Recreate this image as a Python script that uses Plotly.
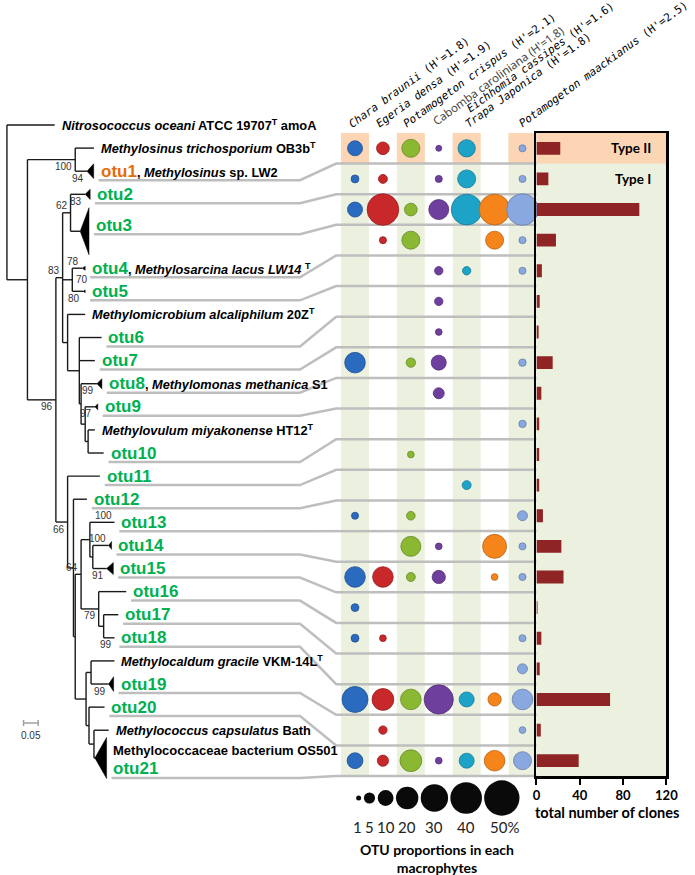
import math
import plotly.graph_objects as go

W, H = 695, 875

# ------------------------------------------------------------------ data
macrophytes = ["Chara braunii", "Egeria densa", "Potamogeton crispus",
               "Cabomba caroliniana", "Trapa Japonica", "Eichhomia cassipes",
               "Potamogeton maackianus"]
macrophyte_H = [1.8, 1.9, 2.1, 1.8, 1.8, 1.6, 2.5]
otus = ["otu%d" % i for i in range(1, 22)]
otu_type_labels = ["Type II", "Type I"]

# OTU proportions (%) in each macrophyte, otu1 .. otu21
chara_braunii = [9, 2.5, 9, 0, 0, 0, 0, 17, 0, 0, 0, 0, 2, 0, 17, 2.5, 2.5, 0, 27, 0, 10]
egeria_densa = [6.5, 3.2, 40, 2, 0, 0, 0, 0, 0, 0, 0, 0, 0, 0, 17, 0, 1.8, 0, 19, 2.8, 5]
potamogeton_crispus = [13, 0, 6.5, 13, 0, 0, 0, 3.5, 0, 0, 1.8, 0, 3, 16, 3.2, 0, 0, 0, 17, 0, 19]
cabomba_caroliniana = [1.4, 2, 16, 0, 2.8, 2.8, 1.8, 9, 4.8, 0, 0, 0, 0, 1.8, 7, 0, 0, 0, 34, 0, 1.8]
trapa_japonica = [12, 13, 38, 0, 2.8, 0, 0, 0, 0, 0, 0, 3.2, 0, 0, 0, 0, 0, 0, 9, 0, 9]
eichhomia_cassipes = [0, 0, 38, 13, 0, 0, 0, 0, 0, 0, 0, 0, 0, 23, 1.8, 0, 0, 0, 7, 0, 17]
potamogeton_maackianus = [2, 2, 40, 2, 2, 0, 0, 2.2, 0, 2.2, 0, 0, 4, 2, 2, 0, 2, 4, 17, 1.8, 13]
proportions = [chara_braunii, egeria_densa, potamogeton_crispus, cabomba_caroliniana,
               trapa_japonica, eichhomia_cassipes, potamogeton_maackianus]

total_clones = [22, 11, 95, 18, 5, 3, 2, 15, 4.5, 2.5, 2.5, 2.5, 6, 23, 25, 1, 4.5, 3, 68, 4, 39]
legend_pct = [1, 5, 10, 20, 30, 40, 50]

# phylogenetic tree (leaves top -> bottom)
tree_leaves = ["Nitro", "Mtri", "otu1", "otu2", "otu3", "otu4", "otu5", "Malc", "otu6",
               "otu7", "otu8", "otu9", "Mmiy", "otu10", "otu11", "otu12", "otu13", "otu14",
               "otu15", "otu16", "otu17", "otu18", "Mgrac", "otu19", "otu20", "Mcap", "otu21"]
leaf_slot = [1, 1, 1, 1, 2.2, 1, 1, 1, 1, 1, 1, 1, 1, 1, 1, 1, 1, 1, 1, 1, 1, 1, 1, 1, 1, 1, 1.4]
# collapsed clades (triangles): half height in leaf slots, width in substitutions/site
clade_half = [0, 0, 0.32, 0.22, 1.02, 0.09, 0.06, 0, 0, 0, 0.22, 0.13, 0, 0, 0, 0, 0,
              0.17, 0.26, 0, 0, 0, 0, 0.32, 0, 0, 0.89]
clade_width = [0, 0, 0.023, 0.017, 0.030, 0.010, 0.007, 0, 0, 0, 0.017, 0.010, 0, 0, 0, 0, 0,
               0.010, 0.023, 0, 0, 0, 0, 0.017, 0, 0, 0.040]

node_parent = {
    "Nitro": "root", "Ingroup": "root",
    "TypeII": "Ingroup", "TypeI": "Ingroup",
    "Mtri": "TypeII", "otu1": "TypeII",
    "N83": "TypeI", "N66": "TypeI",
    "N62": "N83", "N70": "N83", "Nz": "N83",
    "otu2": "N62", "otu3": "N62",
    "otu4": "N70", "otu5": "N70",
    "Malc": "Nz", "Nc": "Nz",
    "otu6": "Nc", "otu7": "Nc", "Nd": "Nc",
    "otu8": "Nd", "NA": "Nd",
    "otu9": "NA", "NB": "NA",
    "Mmiy": "NB", "otu10": "NB",
    "otu11": "N66", "Np": "N66",
    "otu12": "Np", "Nq": "Np",
    "N64": "Nq", "Ng": "Nq",
    "N88": "N64", "N79": "N64",
    "otu13": "N88", "N91": "N88",
    "otu14": "N91", "otu15": "N91",
    "otu16": "N79", "N99": "N79",
    "otu17": "N99", "otu18": "N99",
    "Ngrac": "Ng", "Nn": "Ng",
    "Mgrac": "Ngrac", "otu19": "Ngrac",
    "otu20": "Nn", "Ncap": "Nn",
    "Mcap": "Ncap", "otu21": "Ncap",
}
# cumulative distance from root (substitutions/site)
node_depth = {
    "root": 0.0, "Nitro": 0.163, "Ingroup": 0.070, "TypeII": 0.233, "Mtri": 0.297,
    "otu1": 0.273, "TypeI": 0.167, "N83": 0.190, "N62": 0.217, "otu2": 0.267,
    "otu3": 0.250, "N70": 0.223, "otu4": 0.257, "otu5": 0.260, "Nz": 0.207,
    "Malc": 0.267, "Nc": 0.247, "otu6": 0.323, "otu7": 0.300, "Nd": 0.253,
    "otu8": 0.307, "NA": 0.267, "otu9": 0.300, "NB": 0.277, "Mmiy": 0.300,
    "otu10": 0.330, "N66": 0.207, "otu11": 0.317, "Np": 0.227, "otu12": 0.273,
    "Nq": 0.233, "N64": 0.253, "N88": 0.283, "otu13": 0.367, "N91": 0.293,
    "otu14": 0.347, "otu15": 0.340, "N79": 0.313, "otu16": 0.407, "N99": 0.330,
    "otu17": 0.380, "otu18": 0.367, "Ng": 0.270, "Ngrac": 0.287, "Mgrac": 0.367,
    "otu19": 0.347, "Nn": 0.280, "otu20": 0.333, "Ncap": 0.297, "Mcap": 0.347,
    "otu21": 0.300,
}
bootstrap = [("TypeII", 100, "below"), ("otu1", 94, "below"), ("N83", 83, "above"),
             ("N62", 62, "above"), ("otu2", 83, "below"), ("otu4", 78, "above"),
             ("N70", 70, "right"), ("otu5", 80, "below"), ("TypeI", 96, "below"),
             ("otu8", 99, "below"), ("otu9", 97, "below"), ("N66", 66, "below"),
             ("otu13", 100, "above"), ("N64", 64, "above"), ("otu14", 100, "above"),
             ("otu15", 91, "below"), ("N79", 79, "below"), ("otu18", 99, "below"),
             ("otu19", 99, "below")]

reference_names = {
    "Nitro": "<i>Nitrosococcus oceani</i> ATCC 19707<sup>T</sup> amoA",
    "Mtri": "<i>Methylosinus trichosporium</i> OB3b<sup>T</sup>",
    "Malc": "<i>Methylomicrobium alcaliphilum</i> 20Z<sup>T</sup>",
    "Mmiy": "<i>Methylovulum miyakonense</i> HT12<sup>T</sup>",
    "Mgrac": "<i>Methylocaldum gracile</i> VKM-14L<sup>T</sup>",
    "Mcap": "<i>Methylococcus capsulatus</i> Bath",
}
otu_suffix = {
    "otu1": ", <i>Methylosinus</i> sp. LW2",
    "otu4": ", <i>Methylosarcina lacus LW14</i> <sup>T</sup>",
    "otu8": ", <i>Methylomonas methanica</i> S1",
}
otu21_prefix = "Methylococcaceae bacterium OS501"

# ------------------------------------------------------------------ geometry / style
TREE_PX_PER_UNIT, TREE_X0 = 300.0, 3.0
SLOT_PX, SLOT0 = 23.1, 125.0
MAT_L, MAT_R, BAR_R = 345.0, 545.0, 678.0
ROW_T, ROW_B = 133.0, 776.0
n_rows, n_cols = len(otus), len(macrophytes)
row_h = (ROW_B - ROW_T) / n_rows
col_w = (MAT_R - MAT_L) / n_cols

def px_dx(p):
    return (p - TREE_X0) / TREE_PX_PER_UNIT

def px_slot(p):
    return (p - SLOT0) / SLOT_PX

def px(xp):
    return xp / W

def py(yp):
    return 1 - yp / H

col_colors = ["#2A6BC0", "#C8282A", "#8AB833", "#6F3F9E", "#1DA3C8", "#F5841A", "#8AA8E0"]
GREEN, ORANGE = "#00B050", "#E46C0A"
STRIPE, PEACH = "#EBF1DE", "#FCD5B4"
BAR_COL = "#8E2424"
TREE_FONT = "Liberation Sans"
CAL = "Lato"
REF_SIZE = 12.8

def mix(hexc, f, target=255):
    r, g, b = int(hexc[1:3], 16), int(hexc[3:5], 16), int(hexc[5:7], 16)
    r, g, b = [int(c + (target - c) * f) for c in (r, g, b)]
    return "#%02X%02X%02X" % (r, g, b)

def bubble_size(p):
    return 5.0 * math.sqrt(p)

fig = go.Figure()

# ------------------------------------------------------------------ tree
leaf_y = {}
acc = 0.0
for i, name in enumerate(tree_leaves):
    if i:
        acc += (leaf_slot[i - 1] + leaf_slot[i]) / 2
    leaf_y[name] = acc

children = {}
for n, p in node_parent.items():
    children.setdefault(p, []).append(n)
node_y = dict(leaf_y)

def comp(n):
    if n in node_y:
        return node_y[n]
    ys = [comp(c) for c in children[n]]
    node_y[n] = (min(ys) + max(ys)) / 2
    return node_y[n]

comp("root")

tx, ty = [], []
for n, p in node_parent.items():
    tx += [node_depth[p], node_depth[n], None]
    ty += [node_y[n], node_y[n], None]
for p, ch in children.items():
    ys = [node_y[c] for c in ch]
    tx += [node_depth[p], node_depth[p], None]
    ty += [min(ys), max(ys), None]
fig.add_trace(go.Scatter(x=tx, y=ty, mode="lines", xaxis="x", yaxis="y",
                         line=dict(color="#1a1a1a", width=1.4), hoverinfo="skip"))

trx, tr_y = [], []
for i, name in enumerate(tree_leaves):
    if clade_half[i] > 0:
        d, y0 = node_depth[name], leaf_y[name]
        trx += [d, d + clade_width[i], d + clade_width[i], d, None]
        tr_y += [y0, y0 - clade_half[i], y0 + clade_half[i], y0, None]
fig.add_trace(go.Scatter(x=trx, y=tr_y, mode="lines", fill="toself", fillcolor="black",
                         line=dict(color="black", width=0.5), xaxis="x", yaxis="y",
                         hoverinfo="skip"))

annotations = []
GAP = 5 / TREE_PX_PER_UNIT
conn_x, conn_y = [], []
for i, name in enumerate(tree_leaves):
    lx = node_depth[name] + clade_width[i] + GAP
    y0 = leaf_y[name]
    if name in reference_names:
        annotations.append(dict(x=lx, y=y0, xref="x", yref="y", xanchor="left",
                                yanchor="middle", showarrow=False,
                                text="<b>%s</b>" % reference_names[name],
                                font=dict(family=TREE_FONT, size=REF_SIZE, color="black")))
        continue
    col = ORANGE if name == "otu1" else GREEN
    otu_span = '<span style="font-size:17px;color:%s">%s</span>' % (col, name)
    if name == "otu21":
        annotations.append(dict(x=lx, y=y0 - 7 / SLOT_PX, xref="x", yref="y",
                                xanchor="left", yanchor="middle", showarrow=False,
                                text="<b>%s</b>" % otu21_prefix,
                                font=dict(family=TREE_FONT, size=13, color="black")))
        ty_lab = y0 + 11 / SLOT_PX
        annotations.append(dict(x=lx, y=ty_lab, xref="x", yref="y", xanchor="left",
                                yanchor="middle", showarrow=False, text="<b>%s</b>" % otu_span,
                                font=dict(family=TREE_FONT, size=REF_SIZE, color="black")))
    else:
        ty_lab = y0 - (6 / SLOT_PX if name == "otu3" else 0)
        annotations.append(dict(x=lx, y=ty_lab, xref="x", yref="y", xanchor="left",
                                yanchor="middle", showarrow=False,
                                text="<b>%s%s</b>" % (otu_span, otu_suffix.get(name, "")),
                                font=dict(family=TREE_FONT, size=REF_SIZE, color="black")))
    under_y = ty_lab + 9 / SLOT_PX
    r = otus.index(name)
    sep_px = ROW_T + (r + 1) * row_h
    conn_x += [lx, px_dx(303), px_dx(340), px_dx(MAT_R), None]
    conn_y += [under_y, under_y, px_slot(sep_px), px_slot(sep_px), None]

fig.add_trace(go.Scatter(x=conn_x, y=conn_y, mode="lines", xaxis="x", yaxis="y",
                         line=dict(color="#BEBEBE", width=2.5), hoverinfo="skip"))

for node, val, pos in bootstrap:
    d, y0 = node_depth[node], node_y[node]
    fnt = dict(family=TREE_FONT, size=10, color="#333")
    if pos in ("above", "below"):
        dy = -7 if pos == "above" else 7
        annotations.append(dict(x=d - 1 / TREE_PX_PER_UNIT, y=y0 + dy / SLOT_PX, xref="x",
                                yref="y", xanchor="right", yanchor="middle", showarrow=False,
                                text=str(val), font=fnt))
    else:
        annotations.append(dict(x=d + 2 / TREE_PX_PER_UNIT, y=y0, xref="x", yref="y",
                                xanchor="left", yanchor="middle", showarrow=False,
                                text=str(val), font=fnt))

# scale bar
sb_x0, sb_y = px_dx(20), px_slot(723)
tick = 3 / SLOT_PX
fig.add_trace(go.Scatter(x=[sb_x0, sb_x0 + 0.05, None, sb_x0, sb_x0, None, sb_x0 + 0.05, sb_x0 + 0.05],
                         y=[sb_y, sb_y, None, sb_y - tick, sb_y + tick, None, sb_y - tick, sb_y + tick],
                         mode="lines", xaxis="x", yaxis="y",
                         line=dict(color="#A0A0A0", width=1.5), hoverinfo="skip"))
annotations.append(dict(x=sb_x0 + 0.025, y=sb_y + 12 / SLOT_PX, xref="x", yref="y",
                        xanchor="center", yanchor="middle", showarrow=False, text="0.05",
                        font=dict(family=TREE_FONT, size=10, color="#333")))

# ------------------------------------------------------------------ backgrounds
shapes = []
def rect(x0, x1, y0, y1, color):
    shapes.append(dict(type="rect", xref="paper", yref="paper", layer="below",
                       x0=px(x0), x1=px(x1), y0=py(y1), y1=py(y0),
                       fillcolor=color, line=dict(width=0)))

rect(MAT_R, BAR_R, ROW_T, ROW_B, STRIPE)
rect(MAT_R, BAR_R, ROW_T, ROW_T + row_h, PEACH)
for c in range(0, n_cols, 2):
    x0 = MAT_L + c * col_w
    rect(x0, x0 + col_w, ROW_T, ROW_B, STRIPE)
    rect(x0, x0 + col_w, ROW_T, ROW_T + row_h, PEACH)

# ------------------------------------------------------------------ bubbles
for c, name in enumerate(macrophytes):
    xs, ys, ss = [], [], []
    for r, v in enumerate(proportions[c]):
        if v > 0:
            xs.append(name)
            ys.append(otus[r])
            ss.append(bubble_size(v))
    fig.add_trace(go.Scatter(
        x=xs, y=ys, mode="markers", xaxis="x2", yaxis="y2", cliponaxis=False,
        marker=dict(size=ss, color=col_colors[c], opacity=1,
                    line=dict(width=0.8, color=mix(col_colors[c], 0.25, 0))),
        hoverinfo="skip"))

# ------------------------------------------------------------------ bars
fig.add_trace(go.Bar(x=total_clones, y=otus, orientation="h", xaxis="x3", yaxis="y3",
                     width=0.42, marker=dict(color=BAR_COL, line=dict(width=0)),
                     hoverinfo="skip"))
for k in range(2):
    annotations.append(dict(x=108, y=otus[k], xref="x3", yref="y3", xanchor="right",
                            yanchor="middle", showarrow=False,
                            text="<b>%s</b>" % otu_type_labels[k],
                            font=dict(family=CAL, size=13.5, color="black")))
annotations.append(dict(x=px((MAT_R + BAR_R) / 2 + 6), y=py(812), xref="paper", yref="paper",
                        xanchor="center", yanchor="middle", showarrow=False,
                        text="<b>total number of clones</b>",
                        font=dict(family=CAL, size=14.5, color="black")))

# ------------------------------------------------------------------ column headers
hdr_dx = [-3, -4, -4, -3, 2, -25, 0]
hdr_y = [133, 133, 133, 131, 133, 118, 133]
ANG = 36
for c, name in enumerate(macrophytes):
    cx = MAT_L + (c + 0.5) * col_w + hdr_dx[c]
    if name == "Cabomba caroliniana":
        txt = "%s (H'=%.1f)" % (name, macrophyte_H[c])
        fnt = dict(family="Noto Sans", size=11.5, color="#444")
    else:
        txt = "<i>%s</i> (H'=%.1f)" % (name, macrophyte_H[c])
        fnt = dict(family="DejaVu Sans Mono", size=11, color="black")
    annotations.append(dict(x=px(cx - 9), y=py(hdr_y[c]),
                            xref="paper", yref="paper", xanchor="left", yanchor="bottom",
                            textangle=-ANG, showarrow=False, text=txt, font=fnt))

# ------------------------------------------------------------------ size legend
lxs, prev_r, xcur = [], 0, 363.0
for i, p in enumerate(legend_pct):
    r = bubble_size(p) / 2
    if i:
        xcur += prev_r + r + 3
    lxs.append(xcur)
    prev_r = r
fig.add_trace(go.Scatter(x=lxs, y=[798] * len(lxs), mode="markers", xaxis="x4", yaxis="y4",
                         cliponaxis=False,
                         marker=dict(size=[bubble_size(p) for p in legend_pct], color="#0a0a0a",
                                     opacity=1, line=dict(width=0)),
                         hoverinfo="skip"))
for i, p in enumerate(legend_pct):
    last = i == len(legend_pct) - 1
    shift = 3 if last else (-1.5 if i == 0 else 0)
    annotations.append(dict(x=lxs[i] + shift, y=827,
                            xref="x4", yref="y4", xanchor="center", yanchor="middle",
                            showarrow=False, text=("%d%%" % p) if last else str(p),
                            font=dict(family=CAL, size=15, color="#222")))
annotations.append(dict(x=px(443), y=py(858), xref="paper", yref="paper",
                        xanchor="center", yanchor="middle", showarrow=False,
                        text="<b>OTU proportions in each<br>macrophytes</b>",
                        font=dict(family=CAL, size=14, color="black")))

# ------------------------------------------------------------------ layout
hidden = dict(visible=False, showgrid=False, zeroline=False, fixedrange=True)
fig.update_layout(
    width=W, height=H, margin=dict(l=0, r=0, t=0, b=0, pad=0),
    paper_bgcolor="white", plot_bgcolor="rgba(0,0,0,0)", showlegend=False,
    xaxis=dict(domain=[0, 1], range=[px_dx(0), px_dx(W)], anchor="y", **hidden),
    yaxis=dict(domain=[0, 1], range=[px_slot(H), px_slot(0)], anchor="x", **hidden),
    xaxis2=dict(domain=[px(MAT_L), px(MAT_R)], range=[-0.5, n_cols - 0.5], anchor="y2",
                type="category", categoryorder="array", categoryarray=macrophytes, **hidden),
    yaxis2=dict(domain=[py(ROW_B), py(ROW_T)], range=[n_rows - 0.5, -0.5], anchor="x2",
                type="category", categoryorder="array", categoryarray=otus, **hidden),
    xaxis3=dict(domain=[px(MAT_R), px(BAR_R)], range=[0, 120], anchor="y3",
                tickvals=[0, 40, 80, 120], ticks="outside", ticklen=6, tickwidth=2,
                tickcolor="black", showline=True, linewidth=2.5, linecolor="black",
                mirror=True, showgrid=False, zeroline=False, fixedrange=True,
                tickfont=dict(family=CAL, size=13, color="black", weight="bold")),
    yaxis3=dict(domain=[py(ROW_B), py(ROW_T)], range=[n_rows - 0.5, -0.5], anchor="x3",
                type="category", categoryorder="array", categoryarray=otus,
                showline=True, linewidth=2.5, linecolor="black", mirror=True, fixedrange=True,
                showticklabels=False, ticks="", showgrid=False, zeroline=False),
    xaxis4=dict(domain=[0, 1], range=[0, W], anchor="y4", **hidden),
    yaxis4=dict(domain=[0, 1], range=[H, 0], anchor="x4", **hidden),
    shapes=shapes, annotations=annotations,
)

fig.write_html("out.html", config={"displayModeBar": False, "staticPlot": True},
               post_script="document.body.style.margin='0';")
